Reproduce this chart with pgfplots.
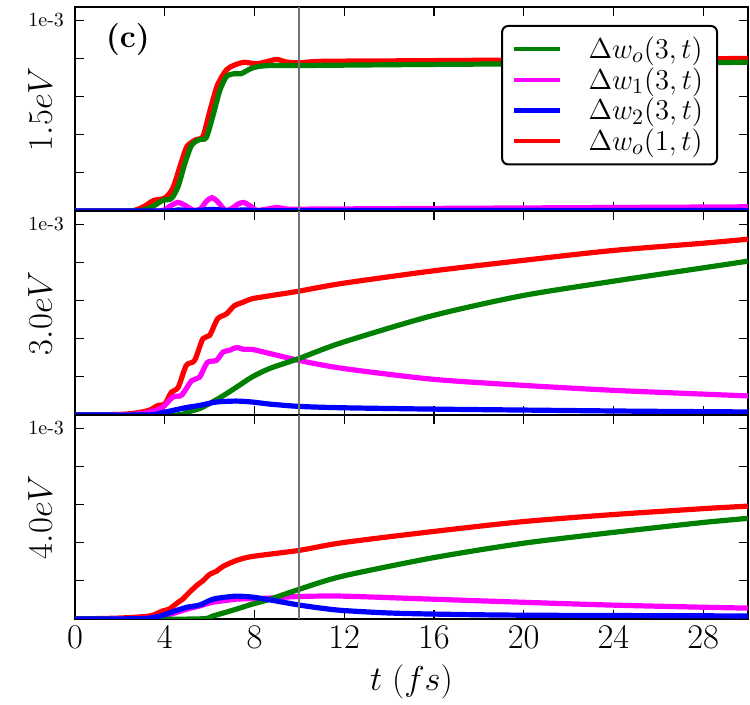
\documentclass[border=0pt]{standalone}
\usepackage{pgfplots}
\pgfplotsset{compat=1.18}
\definecolor{mgreen}{rgb}{0,0.5,0}
\definecolor{mmag}{rgb}{1,0,1}
\definecolor{mblue}{rgb}{0,0,1}
\definecolor{mred}{rgb}{1,0,0}
\pgfplotsset{
  panel/.style={
    scale only axis, width=336.5pt, height=102pt,
    xmin=0, xmax=30, ymin=0, ymax=1.07,
    xtick={0,4,8,12,16,20,24,28},
    ytick={0,0.2,0.4,0.6,0.8,1},
    yticklabels={,,,,,\mbox{1e-3}},
    tick align=inside,
    major tick length=4.5pt,
    tick style={black, line width=0.6pt},
    axis line style={line width=1pt},
    yticklabel style={font=\fontsize{10}{11}\selectfont, xshift=-2pt},
    xticklabel style={font=\fontsize{16}{18}\selectfont},
    ylabel style={at={(axis description cs:0,0.5)}, anchor=center, yshift=17.5pt, font=\fontsize{16}{18}\selectfont},
  },
  gl/.style={mgreen, line width=2.6pt, smooth, tension=0.45},
  ml/.style={mmag, line width=2.6pt, smooth, tension=0.45},
  bl/.style={mblue, line width=2.6pt, smooth, tension=0.45},
  rl/.style={mred, line width=2.6pt, smooth, tension=0.45},
  vl/.style={black!55, line width=1pt, forget plot},
}
\begin{document}
\begin{tikzpicture}
% ---------------- top panel ----------------
\begin{axis}[panel, name=p1, xticklabels={}, ylabel={$1.5eV$},
  legend style={at={(1,1)}, anchor=north east, xshift=-15pt, yshift=-9pt,
    draw=black, line width=1pt, rounded corners=3pt,
    font=\fontsize{15}{17}\selectfont, inner xsep=5pt, inner ysep=3.5pt,
    row sep=-1pt,
    /tikz/every odd column/.append style={column sep=11pt}},
  legend cell align=left,
  legend image code/.code={\draw[#1, line width=2.2pt] (0pt,0pt) -- (23pt,0pt);}]
\addlegendimage{mgreen}\addlegendentry{$\Delta w_o(3,t)$}
\addlegendimage{mmag}\addlegendentry{$\Delta w_1(3,t)$}
\addlegendimage{mblue}\addlegendentry{$\Delta w_2(3,t)$}
\addlegendimage{mred}\addlegendentry{$\Delta w_o(1,t)$}
\addplot[rl, forget plot] coordinates {(0,0) (2.3,0) (2.7,0.005) (3.1,0.025) (3.5,0.055) (4.0,0.068) (4.36,0.12) (4.75,0.26) (5.0,0.34) (5.4,0.375) (5.7,0.39) (6.0,0.52) (6.35,0.66) (6.75,0.74) (7.1,0.765) (7.55,0.78) (8.1,0.772) (8.6,0.785) (9.0,0.795) (9.4,0.782) (10,0.777) (11,0.785) (15,0.788) (20,0.792) (25,0.796) (30,0.8)};
\addplot[ml, forget plot] coordinates {(0,0) (3.6,0) (4.0,0.008) (4.3,0.03) (4.6,0.045) (4.9,0.03) (5.3,0.003) (5.6,0.012) (5.85,0.05) (6.1,0.07) (6.35,0.05) (6.7,0.004) (7.0,0.014) (7.25,0.035) (7.5,0.045) (7.8,0.028) (8.1,0.004) (8.5,0.009) (9.0,0.018) (9.5,0.01) (10.5,0.01) (15,0.013) (20,0.016) (25,0.019) (30,0.022)};
\addplot[gl, forget plot] coordinates {(0,0) (2.5,0) (2.9,0.002) (3.2,0.01) (3.5,0.026) (3.9,0.055) (4.3,0.066) (4.6,0.13) (4.9,0.25) (5.2,0.345) (5.55,0.375) (5.85,0.385) (6.15,0.5) (6.45,0.63) (6.75,0.705) (7.1,0.72) (7.4,0.72) (7.9,0.75) (8.5,0.762) (10,0.763) (15,0.768) (20,0.772) (25,0.776) (30,0.78)};
\addplot[bl, forget plot] coordinates {(0,0) (4,0) (4.6,0.006) (5.2,0.001) (6.1,0.008) (7,0.001) (7.5,0.006) (8.2,0.001) (10,0.002) (30,0.003)};
\addplot[vl] coordinates {(10,0) (10,1.07)};
\node[font=\bfseries\fontsize{16}{18}\selectfont] at (axis cs:2.36,0.9) {(c)};
\end{axis}
% ---------------- middle panel ----------------
\begin{axis}[panel, name=p2, at={(p1.south west)}, anchor=north west, xticklabels={}, ylabel={$3.0eV$}]
\addplot[rl] coordinates {(0,0) (2,0.003) (2.8,0.012) (3.33,0.026) (3.7,0.05) (4.0,0.057) (4.3,0.12) (4.6,0.145) (4.96,0.26) (5.33,0.286) (5.7,0.40) (6.0,0.417) (6.36,0.505) (6.75,0.53) (7.1,0.573) (7.46,0.59) (7.9,0.61) (8.67,0.625) (10,0.65) (11.9,0.69) (15.9,0.755) (19.9,0.81) (23.9,0.862) (27.9,0.9) (30,0.922)};
\addplot[ml] coordinates {(0,0) (2.5,0.003) (3.33,0.016) (3.9,0.04) (4.36,0.094) (4.75,0.104) (5.2,0.18) (5.55,0.198) (5.9,0.276) (6.3,0.286) (6.6,0.33) (6.9,0.34) (7.2,0.354) (7.55,0.344) (7.9,0.344) (8.67,0.323) (10,0.286) (11.9,0.245) (15.9,0.188) (19.9,0.156) (23.9,0.13) (27.9,0.11) (30,0.1)};
\addplot[gl] coordinates {(0,0) (4.4,0) (5.0,0.016) (5.6,0.036) (6.45,0.09) (7.2,0.146) (7.9,0.2) (8.7,0.245) (10,0.297) (11.9,0.38) (15.9,0.52) (19.9,0.625) (23.9,0.70) (27.9,0.77) (30,0.807)};
\addplot[bl] coordinates {(0,0) (3.2,0) (3.8,0.01) (4.4,0.025) (5.0,0.04) (5.55,0.05) (6.3,0.068) (7.2,0.073) (7.9,0.068) (8.7,0.057) (10,0.045) (11.9,0.038) (15.9,0.031) (19.9,0.026) (25,0.02) (30,0.016)};
\addplot[vl] coordinates {(10,0) (10,1.07)};
\end{axis}
% ---------------- bottom panel ----------------
\begin{axis}[panel, name=p3, at={(p2.south west)}, anchor=north west, ylabel={$4.0eV$},
  xlabel={$t\ (fs)$},
  xlabel style={at={(axis description cs:0.5,0)}, anchor=center, yshift=-31.5pt, font=\fontsize{16}{18}\selectfont}]
\addplot[rl] coordinates {(0,0) (2,0.005) (3.33,0.016) (3.9,0.042) (4.2,0.052) (4.6,0.088) (4.8,0.104) (5.1,0.14) (5.47,0.18) (5.7,0.2) (6.0,0.234) (6.3,0.25) (6.6,0.276) (7.2,0.307) (7.9,0.328) (10,0.36) (11.9,0.40) (15.9,0.458) (19.9,0.51) (23.9,0.547) (27.9,0.578) (30,0.592)};
\addplot[ml] coordinates {(0,0) (3,0.003) (3.8,0.012) (4.4,0.03) (5.0,0.052) (5.6,0.07) (6.15,0.088) (7.2,0.104) (7.9,0.106) (8.7,0.11) (10,0.118) (11.9,0.12) (15.9,0.104) (19.9,0.088) (23.9,0.073) (27.9,0.062) (30,0.057)};
\addplot[gl] coordinates {(0,0) (5.4,0) (6.15,0.016) (7.2,0.052) (7.9,0.078) (8.7,0.104) (10,0.156) (11.9,0.224) (15.9,0.32) (19.9,0.396) (23.9,0.453) (27.9,0.505) (30,0.528)};
\addplot[bl] coordinates {(0,0) (3,0.002) (3.8,0.016) (4.4,0.04) (5.0,0.062) (5.55,0.073) (6.15,0.104) (6.75,0.115) (7.2,0.12) (7.9,0.115) (8.7,0.1) (9.9,0.075) (10.9,0.058) (11.9,0.045) (13.9,0.032) (15.9,0.026) (19.9,0.02) (30,0.016)};
\addplot[vl] coordinates {(10,0) (10,1.07)};
\end{axis}
\pgfresetboundingbox
\path[use as bounding box] ([xshift=-37.5pt,yshift=3.5pt]p1.north west) rectangle ([xshift=1pt,yshift=-43pt]p3.south east);
\end{tikzpicture}
\end{document}
